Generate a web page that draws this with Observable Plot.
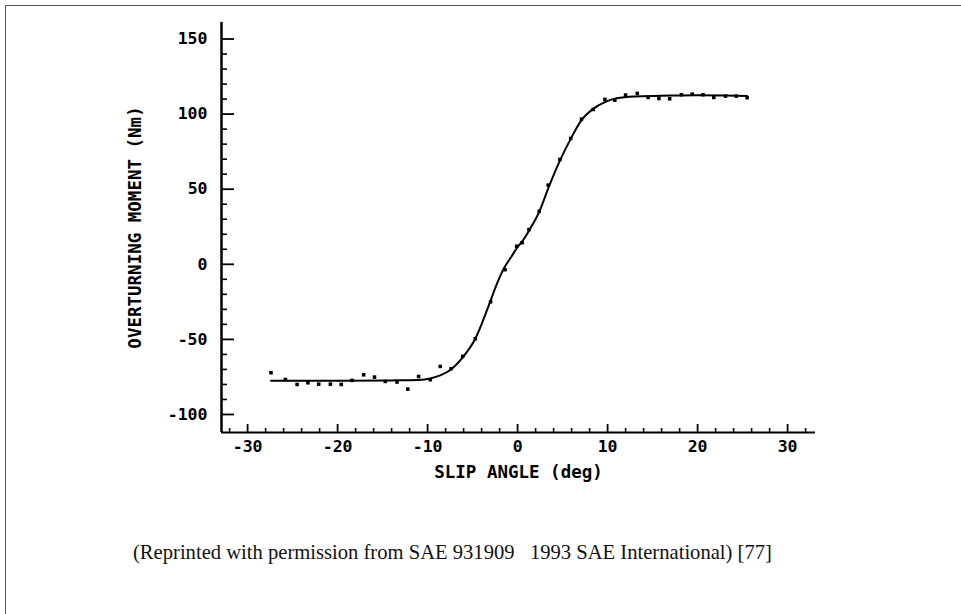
<!DOCTYPE html>
<html><head><meta charset="utf-8">
<script src="https://cdn.jsdelivr.net/npm/d3@7"></script>
<script src="https://cdn.jsdelivr.net/npm/@observablehq/plot@0.6"></script>
<style>
body{margin:0;background:#fff;}
#wrap{position:relative;width:961px;height:614px;overflow:hidden;background:#fff;}
#chart{position:absolute;left:0;top:0;}
#frame{position:absolute;left:5px;top:5px;right:-10px;bottom:-10px;border-top:1.5px solid #555;border-left:1.5px solid #555;pointer-events:none;}
#caption{position:absolute;left:133px;top:540px;font:20.6px "Liberation Serif","Times New Roman",serif;color:#111;white-space:pre;line-height:24px;}
</style></head><body>
<div id="wrap"><div id="chart"></div><div id="caption"></div><div id="frame"></div></div>
<script>
// measured points
const dotSlip = [-27.4,-25.8,-24.5,-23.3,-22.1,-20.8,-19.6,-18.4,-17.1,-15.9,-14.7,-13.4,-12.2,-11.0,-9.7,-8.6,-7.4,-6.1,-4.7,-3.0,-1.4,-0.1,0.5,1.26,2.4,3.4,4.7,5.9,7.1,8.4,9.7,10.8,12.0,13.3,14.5,15.7,16.9,18.2,19.4,20.6,21.8,23.1,24.3,25.5];
const dotMoment = [-72.2,-76.7,-80,-78.9,-79.8,-79.8,-80,-77.3,-73.6,-75.1,-78,-78.4,-83.1,-74.7,-76.9,-68,-69.5,-61.3,-49.6,-25,-3.6,12,14.4,23.1,35.3,52.7,69.8,83.8,96.7,103.1,109.8,109.3,112.7,113.8,111.1,110.4,110.2,112.9,113.3,112.9,111.1,112,112,110.9];
// fitted curve
const fitSlip = [-27.4,-20,-14,-11,-9.7,-8.6,-7.4,-6.1,-4.7,-3.2,-2.3,-1.5,-0.7,0,0.6,1.3,2.4,3.5,4.7,5.9,7.1,8.4,9.7,11,13,16,20,23,25.5];
const fitMoment = [-77.5,-77.5,-77.3,-77,-76,-74,-70,-62,-49.6,-27.3,-13,-2.5,5,11.5,16,22.7,34.9,52,69,83.5,96,103.5,108,110.5,111.8,112.2,112.6,112.4,112];
// axes
const xMajorTicks = [-30,-20,-10,0,10,20,30];
const xMinorTicks = [-32,-28,-26,-24,-22,-18,-16,-14,-12,-8,-6,-4,-2,2,4,6,8,12,14,16,18,22,24,26,28,32];
const yMajorTicks = [-100,-50,0,50,100,150];
const yMinorTicks = [-90,-80,-70,-60,-40,-30,-20,-10,10,20,30,40,60,70,80,90,110,120,130,140];
const xLabel = "SLIP ANGLE (deg)";
const yLabel = "OVERTURNING MOMENT (Nm)";
const caption = "(Reprinted with permission from SAE 931909   1993 SAE International) [77]";
const xMin = -32.9, xMax = 33.1, yMin = -112, yMax = 161;

const dots = dotSlip.map((s,i)=>({slip:s, moment:dotMoment[i]}));
const fit = fitSlip.map((s,i)=>({slip:s, moment:fitMoment[i]}));

const W = 961, H = 500, mL = 221, mR = 146, mT = 22, mB = 68;
const frameW = W - mL - mR, frameH = H - mT - mB;

const chart = Plot.plot({
  width: W, height: H,
  marginLeft: mL, marginRight: mR, marginTop: mT, marginBottom: mB,
  style: {fontFamily: "'DejaVu Sans Mono', monospace", fontWeight: "bold", fontSize: "16.5px", color: "#000", background: "transparent"},
  x: {domain: [xMin, xMax]},
  y: {domain: [yMin, yMax]},
  marks: [
    Plot.axisX({ticks: xMajorTicks, tickSize: 0, tickPadding: 8, tickFormat: d => String(d), label: null}),
    Plot.axisY({ticks: yMajorTicks, tickSize: 0, tickPadding: 14, tickFormat: d => String(d), label: null}),
    Plot.tickX(xMajorTicks, {x: d => d, insetTop: frameH - 8, stroke: "#000", strokeWidth: 1.8}),
    Plot.tickX(xMinorTicks, {x: d => d, insetTop: frameH - 4, stroke: "#000", strokeWidth: 1.6}),
    Plot.tickY(yMajorTicks, {y: d => d, insetRight: frameW - 13, stroke: "#000", strokeWidth: 1.8}),
    Plot.tickY(yMinorTicks, {y: d => d, insetRight: frameW - 6, stroke: "#000", strokeWidth: 1.6}),
    Plot.ruleY([yMin], {stroke: "#000", strokeWidth: 2}),
    Plot.ruleX([xMin], {stroke: "#000", strokeWidth: 2.5}),
    Plot.line(fit, {x: "slip", y: "moment", curve: "monotone-x", stroke: "#000", strokeWidth: 2}),
    Plot.dot(dots, {x: "slip", y: "moment", symbol: "square", r: 2, fill: "#000", stroke: "none"}),
    Plot.text([xLabel], {frameAnchor: "bottom", dy: 45, text: d => d, fontSize: 17.5, fill: "#000"}),
    Plot.text([yLabel], {frameAnchor: "left", dx: -86, rotate: -90, textAnchor: "middle", lineAnchor: "middle", text: d => d, fontSize: 17.5, fill: "#000"})
  ]
});
document.getElementById("chart").appendChild(chart);
document.getElementById("caption").textContent = caption;
</script>
</body></html>
